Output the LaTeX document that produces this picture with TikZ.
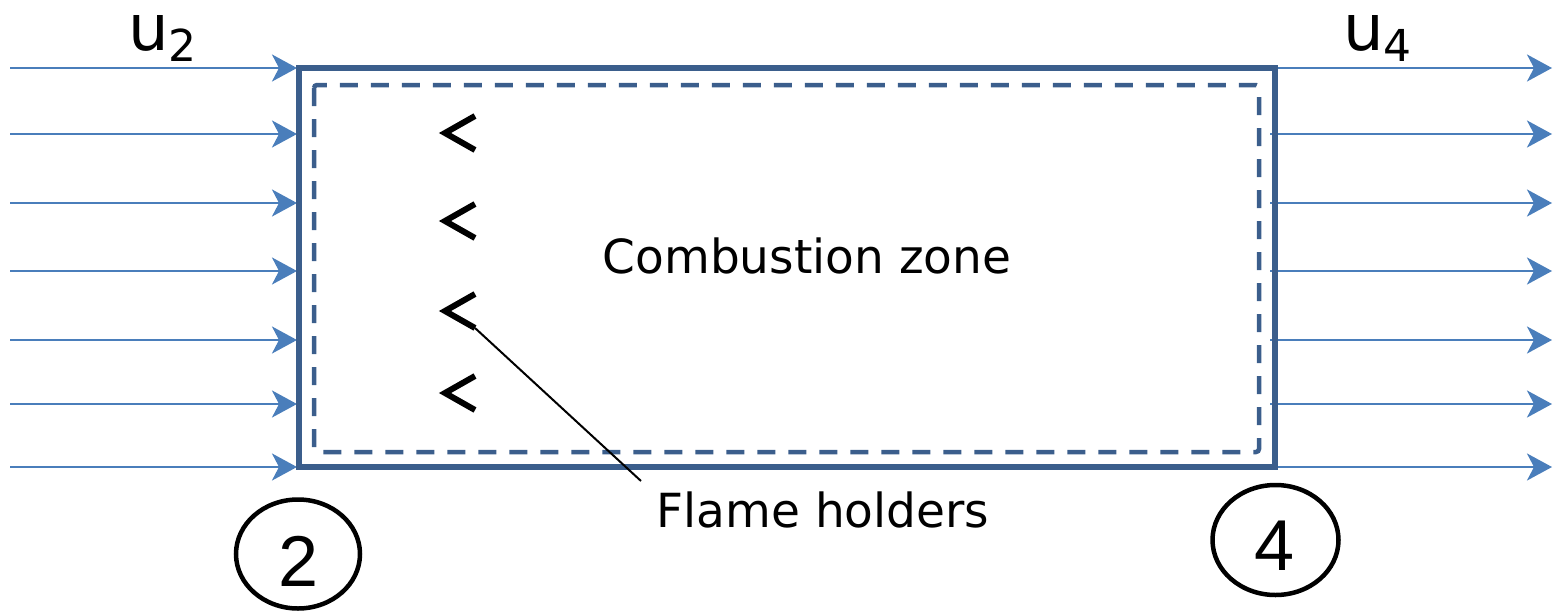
\documentclass[tikz,border=0pt]{standalone}
\usepackage{fontspec}
\setmainfont{DejaVu Sans}
\newfontfamily\digitfont{Liberation Sans}
\usetikzlibrary{arrows.meta,shapes.geometric}
\definecolor{flow}{HTML}{4A7EBB}
\definecolor{boxc}{HTML}{3B5E8C}
\begin{document}
\begin{tikzpicture}[x=1pt,y=-1pt,
  flowarrow/.style={draw=flow, line width=2.5pt, -{Stealth[length=25pt,width=27pt,inset=7pt]}},
  outerbox/.style={draw=boxc, line width=5.5pt},
  innerbox/.style={draw=boxc, line width=4.5pt, dash pattern=on 18pt off 13pt, rounded corners=3pt},
  chevron/.style={draw=black, line width=6pt, miter limit=10},
  leader/.style={draw=black, line width=2pt},
  station/.style={draw=black, ellipse, line width=4.5pt, inner sep=0pt},
  bigtext/.style={font=\fontsize{47}{56}\selectfont, inner sep=0pt},
  digit/.style={font=\digitfont\fontsize{72}{80}\selectfont, inner sep=0pt}
]
\useasboundingbox (0,0) rectangle (1553,613);

% arrows
\foreach \i/\y in {1/68,2/134,3/203,4/271,5/340,6/404,7/467}{
  \coordinate (L\i s) at (10,\y);
  \coordinate (L\i e) at (297,\y);
  \coordinate (R\i s) at (1270,\y);
  \coordinate (R\i e) at (1552,\y);
  \draw[flowarrow] (L\i s) -- (L\i e);
  \draw[flowarrow] (R\i s) -- (R\i e);
}

% boxes
\draw[outerbox] (299,68) rectangle (1275,467);
\draw[innerbox] (314,85) rectangle (1259,452);

% flame holders
\foreach \i/\t in {1/116,2/204,3/294,4/376}{
  \coordinate (F\i) at (475,\t+34);
  \draw[chevron] (475,\t) -- (445,\t+17) -- (F\i);
}

% labels
\node[bigtext] (comb) at (807,256) {Combustion zone};
\node[bigtext, anchor=north] (flame) at (823,492) {\vphantom{F}Flame holders};
\coordinate (leadend) at (641,481);
\draw[leader] (F3) -- (leadend);

\node[font=\fontsize{64}{70}\selectfont, inner sep=0pt, anchor=base west] (u2) at (128,50) {u\raisebox{-0.18em}{\fontsize{44}{50}\selectfont 2}};
\node[font=\fontsize{64}{70}\selectfont, inner sep=0pt, anchor=base west] (u4) at (1343,50) {u\raisebox{-0.18em}{\fontsize{44}{50}\selectfont 4}};

% stations
\node[station, minimum width=124pt, minimum height=109pt] (s2) at (298,554) {};
\node[digit, anchor=base] (d2) at (299,586) {2};
\node[station, minimum width=126pt, minimum height=110pt] (s4) at (1275.5,540) {};
\node[digit, anchor=base] (d4) at (1275,570) {4};
\end{tikzpicture}
\end{document}
